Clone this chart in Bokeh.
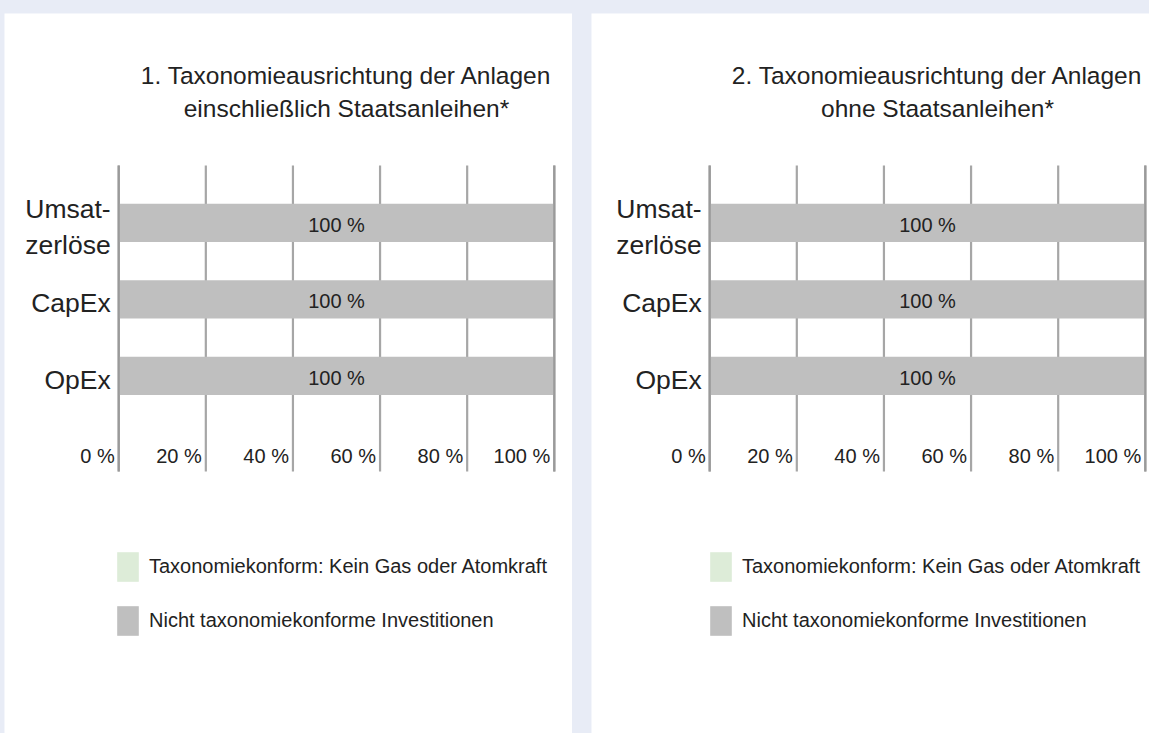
from bokeh.plotting import figure
from bokeh.layouts import row
from bokeh.models import (ColumnDataSource, Range1d, LabelSet, Label,
                          Legend, LegendItem)
from bokeh.core.properties import value
from bokeh.embed import file_html
from bokeh.resources import INLINE

# ---------------- data ----------------
categories = ["Umsat-\nzerlöse", "CapEx", "OpEx"]
series_names = ["Taxonomiekonform: Kein Gas oder Atomkraft",
                "Nicht taxonomiekonforme Investitionen"]
chart1_aligned = [0, 0, 0]
chart1_not_aligned = [100, 100, 100]
chart2_aligned = [0, 0, 0]
chart2_not_aligned = [100, 100, 100]
x_ticks = [0, 20, 40, 60, 80, 100]
x_tick_labels = ["0 %", "20 %", "40 %", "60 %", "80 %", "100 %"]
titles = ["1. Taxonomieausrichtung der Anlagen\neinschließlich Staatsanleihen*",
          "2. Taxonomieausrichtung der Anlagen\nohne Staatsanleihen*"]

# ---------------- style ----------------
FONT = "Liberation Sans"
BG = "#e8ecf6"
GREEN = "#ddecd8"
GREY = "#bfbfbf"
GRID = "#a6a6a6"
EDGE = "#9a9a9a"
TEXT = "#222222"

# plot area (in category units) spanned by the grid lines
GRID_BOTTOM, GRID_TOP = -1.25, 2.75


def make_chart(title, aligned, not_aligned, width, x_start, x_end, legend_x, margin):
    ypos = [len(categories) - 1 - i for i in range(len(categories))]
    src = ColumnDataSource(dict(
        y=ypos, cat=categories, aligned=aligned, not_aligned=not_aligned,
        label_x=[a + n / 2 for a, n in zip(aligned, not_aligned)],
        label=[f"{n} %" for n in not_aligned],
    ))
    p = figure(width=width, height=720,
               x_range=Range1d(x_start, x_end), y_range=Range1d(-4.675, 4.737),
               output_backend="svg", toolbar_location=None)
    p.min_border = 0
    p.min_border_left = 0
    p.min_border_right = 0
    p.min_border_top = 0
    p.min_border_bottom = 0
    p.margin = margin
    p.background_fill_color = "white"
    p.border_fill_color = "white"
    p.outline_line_color = None
    p.xaxis.visible = False
    p.yaxis.visible = False
    p.xgrid.visible = False
    p.ygrid.visible = False

    # vertical grid lines at the ticks
    p.segment(x0=x_ticks, y0=GRID_BOTTOM, x1=x_ticks, y1=GRID_TOP,
              line_color=GRID, line_width=2.2)

    # bars
    rends = p.hbar_stack(["aligned", "not_aligned"], y="y", height=0.5,
                         color=[GREEN, GREY], line_color=None, source=src)

    # 0 % and 100 % lines drawn over the bars
    edges = [x_ticks[0], x_ticks[-1]]
    p.segment(x0=edges, y0=GRID_BOTTOM, x1=edges, y1=GRID_TOP,
              line_color=EDGE, line_width=2.2)

    # bar value labels
    p.add_layout(LabelSet(x="label_x", y="y", text="label", source=src,
                          text_align="center", text_baseline="middle",
                          text_font=value(FONT), text_font_size=value("20px"),
                          text_color=TEXT, y_offset=-2))

    # x tick labels (left of each grid line)
    tick_src = ColumnDataSource(dict(x=x_ticks, text=x_tick_labels))
    p.add_layout(LabelSet(x="x", y=-1.05, text="text", source=tick_src,
                          text_align="right", text_baseline="middle", x_offset=-4,
                          text_font=value(FONT), text_font_size=value("20px"),
                          text_color=TEXT))

    # category labels
    p.add_layout(LabelSet(x=0, y="y", text="cat", source=src,
                          text_align="right", text_baseline="middle", x_offset=-8,
                          y_offset=-4,
                          text_font=value(FONT), text_font_size=value("26.5px"),
                          text_color=TEXT, text_line_height=1.2))

    # title
    p.add_layout(Label(x=50, y=3.71, text=title, text_align="center",
                       text_baseline="middle", x_offset=10,
                       text_font=FONT, text_font_size="24.5px",
                       text_color=TEXT, text_line_height=1.24))

    # legend
    legend = Legend(items=[LegendItem(label=series_names[0], renderers=[rends[0]]),
                           LegendItem(label=series_names[1], renderers=[rends[1]])],
                    location=(legend_x, 94), orientation="vertical",
                    glyph_width=27, glyph_height=37, label_standoff=8,
                    spacing=17, padding=0, margin=0,
                    border_line_color=None, background_fill_alpha=0,
                    label_text_font=FONT, label_text_font_size="20px",
                    label_text_color=TEXT)
    p.add_layout(legend)
    return p


f1 = make_chart(titles[0], chart1_aligned, chart1_not_aligned,
                width=568, x_start=-26.22, x_end=104.18, legend_x=110,
                margin=(13, 0, 0, 4))
f2 = make_chart(titles[1], chart2_aligned, chart2_not_aligned,
                width=558, x_start=-27.13, x_end=100.96, legend_x=116,
                margin=(13, 0, 0, 0))

p = row(f1, f2, spacing=19,
        styles={"position": "fixed", "left": "0px", "top": "0px",
                "background-color": BG})

open("out.html", "w").write(file_html(p, INLINE))
